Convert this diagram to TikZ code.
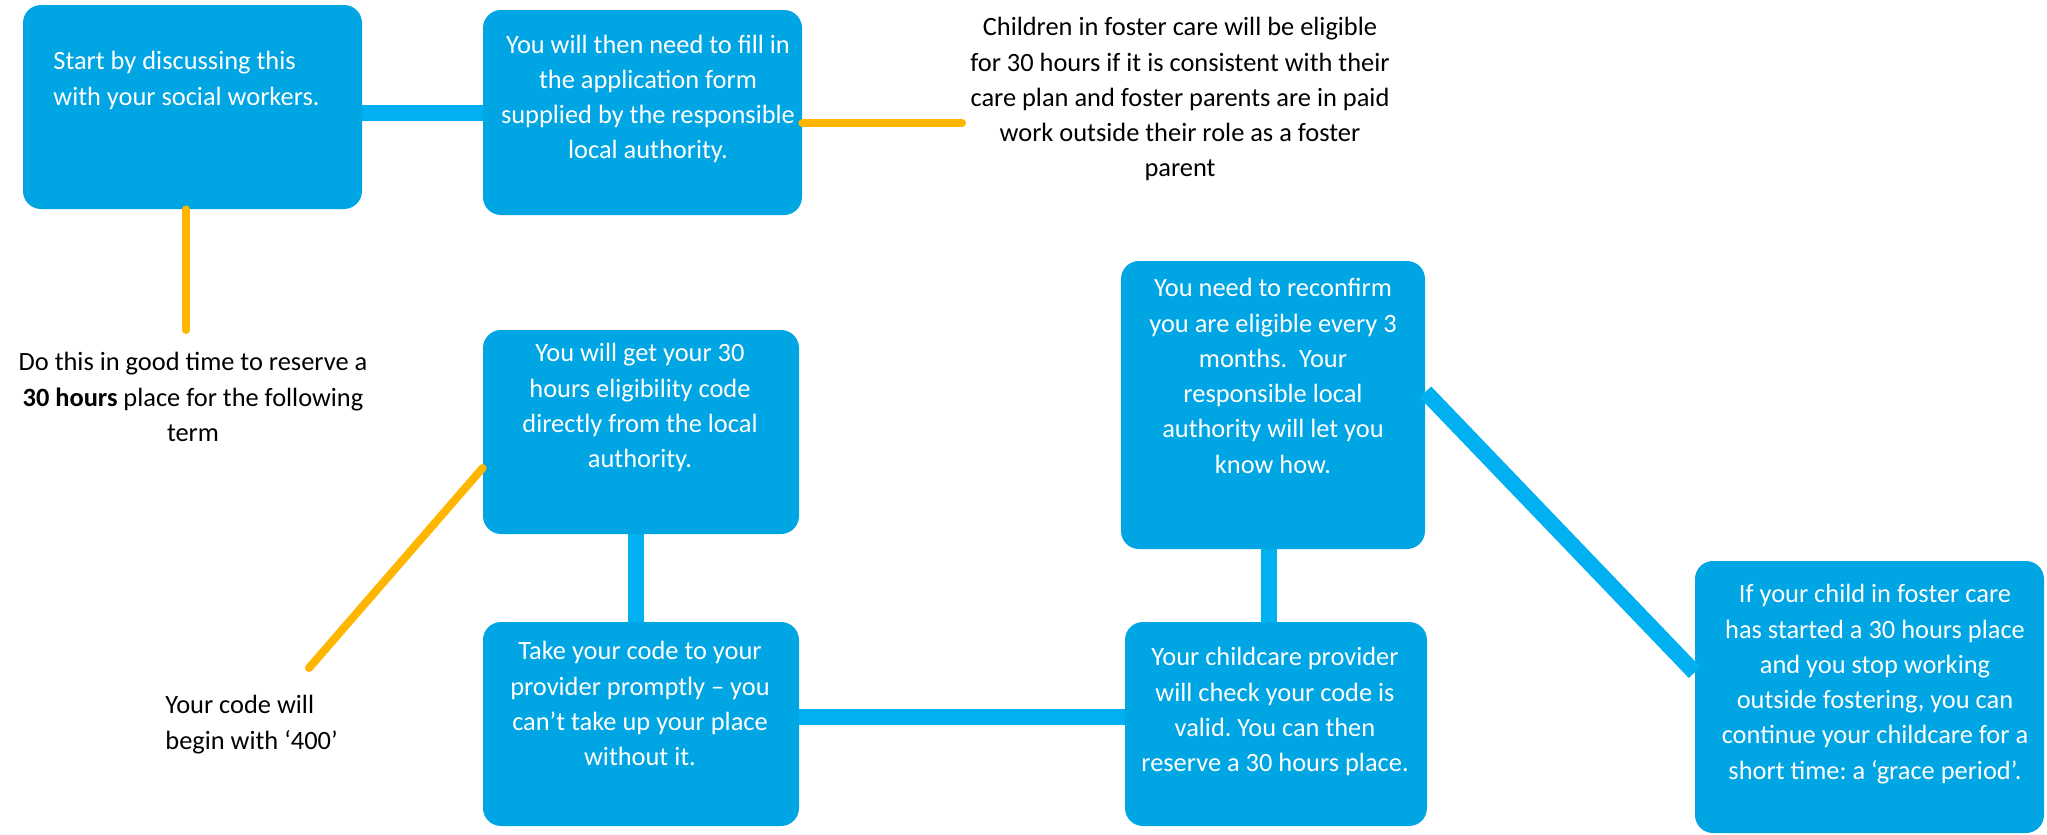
\documentclass[tikz,border=0pt]{standalone}
\usepackage{fontspec}
\setmainfont{Carlito}
\frenchspacing
\usetikzlibrary{fit,calc}
\definecolor{boxblue}{RGB}{0,165,227}
\definecolor{linkblue}{RGB}{0,176,240}
\definecolor{orangeline}{RGB}{255,182,0}
\tikzset{
  stepbox/.style={fill=boxblue, draw=none, rounded corners=9pt, inner sep=0pt},
  bluelink/.style={draw=linkblue, line width=8pt},
  orangelink/.style={draw=orangeline, line width=4pt, line cap=round},
  intext/.style={text=white, inner sep=0pt, anchor=north, align=center, font=\fontsize{13.2}{17.65}\selectfont},
  outtext/.style={text=black, inner sep=0pt, anchor=north, align=center, font=\fontsize{13.2}{17.65}\selectfont},
}
\begin{document}
\begin{tikzpicture}[x=0.5pt,y=-0.5pt]
\useasboundingbox (0,0) rectangle (2047,835);
% boxes
\node[stepbox, fit={(23,5) (362,209)}] (A) {};
\node[stepbox, fit={(483,10) (802,215)}] (B) {};
\node[stepbox, fit={(483,330) (799,534)}] (C) {};
\node[stepbox, fit={(483,622) (799,826)}] (D) {};
\node[stepbox, fit={(1125,622) (1427,826)}] (E) {};
\node[stepbox, fit={(1121,261) (1425,549)}] (F) {};
\node[stepbox, fit={(1695,561) (2044,833)}] (G) {};
% blue connectors
\draw[bluelink] (A.east |- B.west) -- (B.west);
\draw[bluelink] ($(C.north)+(-5,0)$ |- B.south) -- ($(C.north)+(-5,0)$);
\draw[bluelink] ($(C.south)+(-5,0)$) -- ($(D.north)+(-5,0)$);
\draw[bluelink] ($(D.east)+(0,-7)$) -- ($(D.east -| E.west)+(0,-7)$);
\draw[bluelink] ($(F.south)+(-4,0)$) -- ($(F.south |- E.north)+(-4,0)$);
\draw[bluelink] ($(F.north east)!0.455!(F.south east)$) -- ($(G.north west)!0.41!(G.south west)$);
% orange connectors
\coordinate (o1) at (962,123);
\coordinate (o2) at (186,330);
\coordinate (o3) at (309,668);
\draw[orangelink] (B.east |- o1) -- (o1);
\draw[orangelink] (A.south -| o2) -- (o2);
\draw[orangelink] ($(C.north west)!0.676!(C.south west)$) -- (o3);
% texts in boxes
\node[intext, anchor=north west, align=left] (tA) at (53,51) {Start by discussing this\\with your social workers.};
\node[intext, font=\fontsize{13.2}{17.4}\selectfont] (tB) at (648,35) {You will then need to fill in\\the application form\\supplied by the responsible\\local authority.};
\node[intext] (tC) at (640,343) {You will get your 30\\hours eligibility code\\directly from the local\\authority.};
\node[intext] (tD) at (640,641) {Take your code to your\\provider promptly -- you\\can’t take up your place\\without it.};
\node[intext] (tE) at (1275,647) {Your childcare provider\\will check your code is\\valid. You can then\\reserve a 30 hours place.};
\node[intext] (tF) at (1273,278) {You need to reconfirm\\you are eligible every 3\\months.\ \ Your\\responsible local\\authority will let you\\know how.};
\node[intext] (tG) at (1875,584) {If your child in foster care\\has started a 30 hours place\\and you stop working\\outside fostering, you can\\continue your childcare for a\\short time: a ‘grace period’.};
% outside texts
\node[outtext] (tH) at (1180,17) {Children in foster care will be eligible\\for 30 hours if it is consistent with their\\care plan and foster parents are in paid\\work outside their role as a foster\\parent};
\node[outtext] (tI) at (193,352) {Do this in good time to reserve a\\\textbf{30 hours} place for the following\\term};
\node[outtext, anchor=north west, align=left] (tJ) at (165,695) {Your code will\\begin with ‘400’};
\end{tikzpicture}
\end{document}
